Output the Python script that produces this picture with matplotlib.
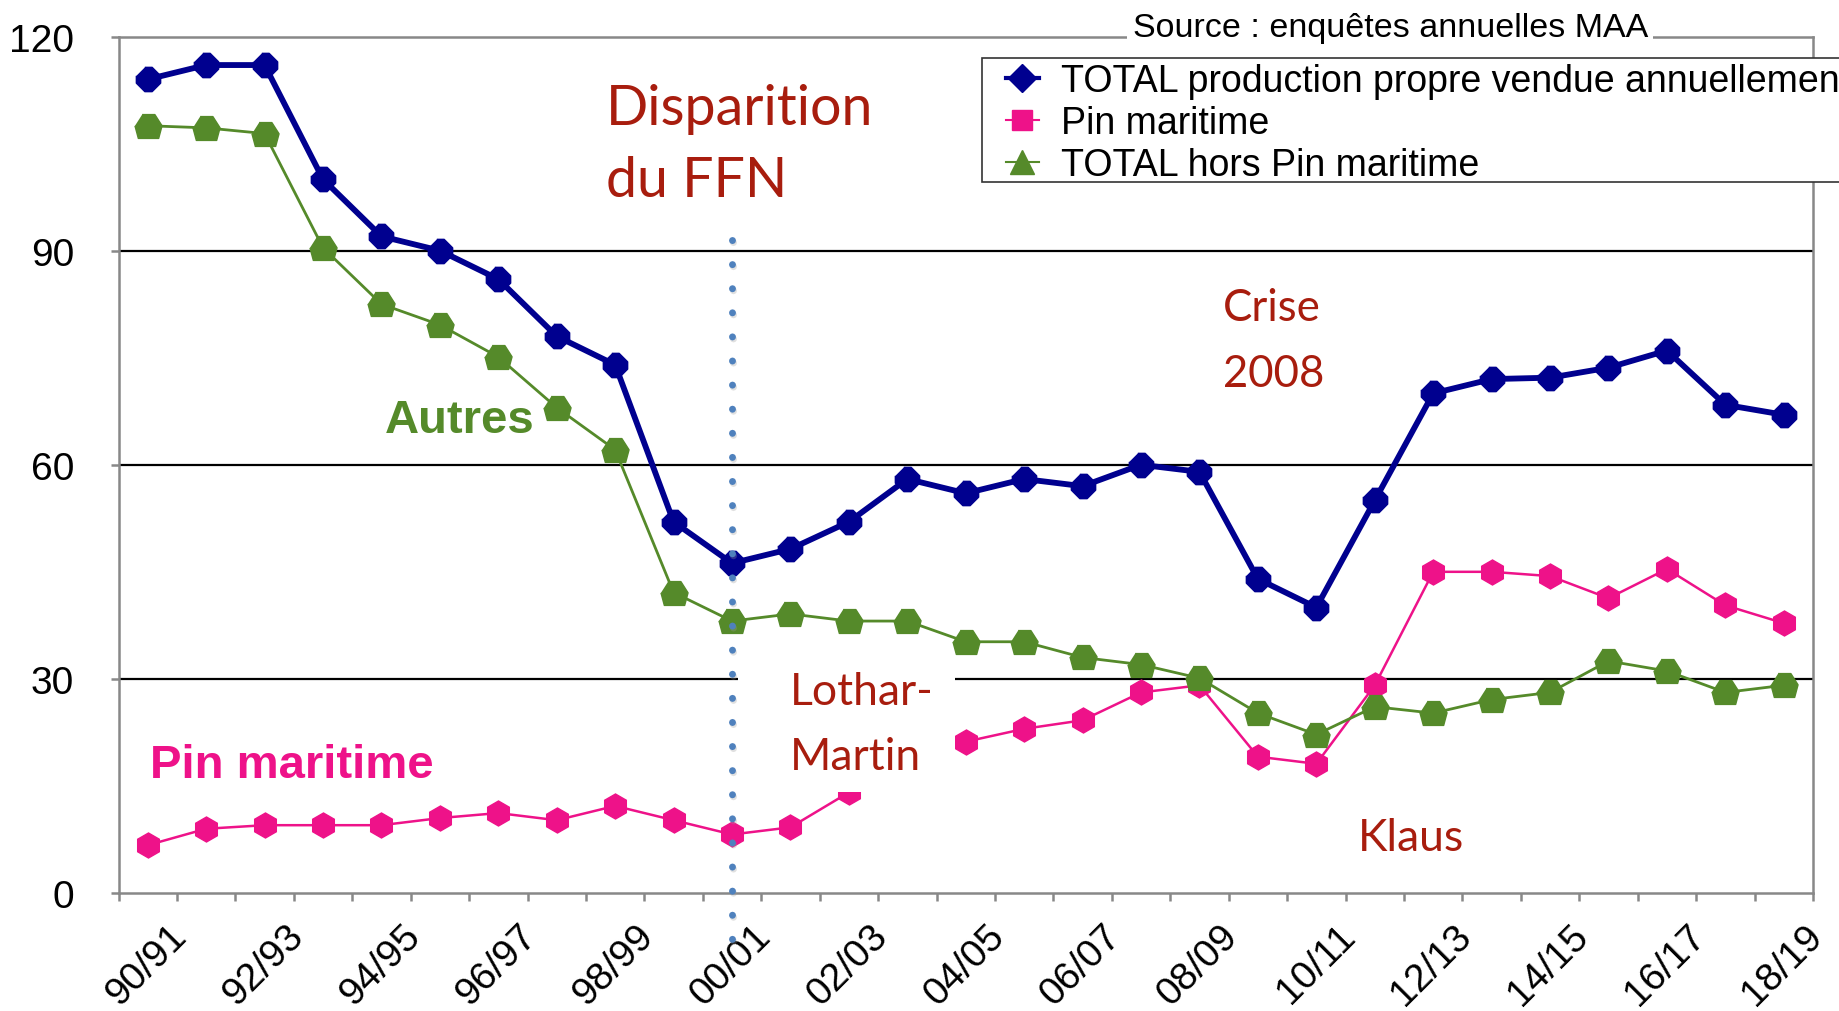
import matplotlib
matplotlib.use("Agg")
import matplotlib.pyplot as plt
import matplotlib.patheffects as pe
from matplotlib.lines import Line2D
from matplotlib.patches import Rectangle
from matplotlib.transforms import ScaledTranslation

# Campagnes (saisons) 1990/91 -> 2018/19
seasons = ["90/91", "91/92", "92/93", "93/94", "94/95", "95/96", "96/97", "97/98",
           "98/99", "99/00", "00/01", "01/02", "02/03", "03/04", "04/05", "05/06",
           "06/07", "07/08", "08/09", "09/10", "10/11", "11/12", "12/13", "13/14",
           "14/15", "15/16", "16/17", "17/18", "18/19"]

# TOTAL production propre vendue annuellement
total = [114, 116, 116, 100, 92, 90, 86, 78, 74, 52, 46.2, 48.2, 52, 58, 56, 58,
         57, 60, 59, 44, 40, 55, 70, 72, 72.2, 73.6, 76, 68.4, 67]
# Pin maritime
pin = [6.7, 9, 9.5, 9.5, 9.5, 10.5, 11.2, 10.2, 12.2, 10.2, 8.2, 9.2, 14.1, 18,
       21.2, 23, 24.2, 28.1, 29.1, 19.1, 18.1, 29.1, 45, 45, 44.4, 41.3, 45.4, 40.3, 37.8]
# TOTAL hors Pin maritime
hors_pin = [107.5, 107.2, 106.4, 90.4, 82.5, 79.6, 75.1, 68, 62.1, 42.1, 38.1, 39.1,
            38.1, 38.1, 35.2, 35.2, 33, 32, 30.1, 25.2, 22.2, 26.1, 25.2, 27.1, 28.1,
            32.5, 31.1, 28.1, 29.1]

yticks = [0, 30, 60, 90, 120]

BLUE = "#00008F"
PINK = "#EE1289"
GREEN = "#558A2A"
DARKRED = "#A81D0E"
GREY = "#888888"

plt.rcParams["font.family"] = ["Liberation Sans", "DejaVu Sans"]

fig = plt.figure(figsize=(18.39, 10.12), dpi=100)
ax = fig.add_axes([118.5 / 1839, 1 - 894 / 1012, 1694.5 / 1839, 856.5 / 1012])

x = list(range(len(seasons)))

# marker shapes close to the Excel ones
blue_marker = [(-0.3, 1), (0.3, 1), (1, 0.3), (1, -0.3), (0.3, -1), (-0.3, -1),
               (-1, -0.3), (-1, 0.3)]
green_marker = [(-0.47, 0.88), (0.47, 0.88), (1, 0.05), (0.75, -0.88),
                (-0.75, -0.88), (-1, 0.05)]

ax.plot(x, total, color=BLUE, lw=4.2, marker=blue_marker, ms=17.5, zorder=4)
ax.plot(x, pin, color=PINK, lw=1.8, marker="h", ms=18, zorder=3)
ax.plot(x, hors_pin, color=GREEN, lw=2.0, marker=green_marker, ms=19.5, zorder=3)

ax.set_xlim(-0.5, len(seasons) - 0.5)
ax.set_ylim(0, 120)

# grid lines
for v in yticks[1:-1]:
    ax.axhline(v, color="black", lw=1.6, zorder=1)

for side in ["left", "bottom", "top", "right"]:
    ax.spines[side].set_color(GREY)
    ax.spines[side].set_linewidth(1.8)

ax.set_yticks(yticks)
ax.set_yticklabels([str(v) for v in yticks])
ax.tick_params(axis="y", direction="out", length=6, width=1.8, color=GREY,
               labelsize=28, pad=26)

# x: labels every second season, tick marks between categories
ax.set_xticks(x[::2])
ax.set_xticklabels(seasons[::2], rotation=45, ha="right", va="center",
                   rotation_mode="anchor")
ax.set_xticks([i - 0.5 for i in range(len(seasons) + 1)], minor=True)
ax.tick_params(axis="x", which="major", length=0, labelsize=28, pad=27)
ax.tick_params(axis="x", which="minor", direction="out", length=6, width=1.8,
               color=GREY)
shift = ScaledTranslation(33 / 100, 0, fig.dpi_scale_trans)
for lab in ax.get_xticklabels():
    lab.set_transform(lab.get_transform() + shift)

# dotted line: disparition du FFN (drawn from the top down)
i_ffn = seasons.index("00/01")
ax.plot([i_ffn, i_ffn], [91.5, -7.6], color="#4F81BD", lw=5,
        linestyle=(0, (0.01, 3.46)), dash_capstyle="round", clip_on=False,
        zorder=5,
        path_effects=[pe.SimpleLineShadow(offset=(0.8, -1.2), shadow_color="#999999",
                                          alpha=0.3), pe.Normal()])

# white box behind "Lothar-Martin"
ax.add_patch(Rectangle((0.3655, 0.118), 0.1282, 0.155, transform=ax.transAxes,
                       facecolor="white", edgecolor="none", zorder=6))

ann = dict(fontfamily="Lato", color=DARKRED, transform=ax.transAxes,
           ha="left", va="center", zorder=7)
ax.text(0.2877, 0.874, "Disparition\ndu FFN", fontsize=40, linespacing=1.52, **ann)
ax.text(0.652, 0.645, "Crise\n2008", fontsize=31.5, linespacing=1.75, **ann)
ax.text(0.396, 0.197, "Lothar-\nMartin", fontsize=32, linespacing=1.72, **ann)
ax.text(0.7315, 0.065, "Klaus", fontsize=32, **ann)

ax.text(0.157, 0.552, "Autres", fontsize=34, fontweight="bold", color=GREEN,
        transform=ax.transAxes, ha="left", va="center", zorder=7)
ax.text(0.0186, 0.150, "Pin maritime", fontsize=34, fontweight="bold", color=PINK,
        transform=ax.transAxes, ha="left", va="center", zorder=7)

fig.text(0.756, 0.972, "Source : enquêtes annuelles MAA", fontsize=24.5,
         ha="center", va="center",
         bbox=dict(facecolor="white", edgecolor="none", pad=4))

# legend frame (runs off the right edge like the original)
fig.add_artist(Rectangle((982 / 1839, 1 - 183 / 1012), 0.6, 124 / 1012,
                         transform=fig.transFigure, facecolor="white",
                         edgecolor="#333333", lw=1.2, zorder=4))

handles = [
    Line2D([], [], color=BLUE, lw=3, marker="D", ms=14),
    Line2D([], [], color=PINK, lw=1.5, marker="s", ms=15),
    Line2D([], [], color=GREEN, lw=1.5, marker="^", ms=17),
]
labels = ["TOTAL production propre vendue annuellement", "Pin maritime",
          "TOTAL hors Pin maritime"]
leg = fig.legend(handles, labels, loc="upper left",
                 bbox_to_anchor=(1006 / 1839, 1 - 64.5 / 1012), borderaxespad=0,
                 fontsize=27, frameon=False, handlelength=0.88,
                 handletextpad=0.59, labelspacing=0.16, borderpad=0)
leg.set_zorder(6)

fig.savefig("out.png", dpi=100)
